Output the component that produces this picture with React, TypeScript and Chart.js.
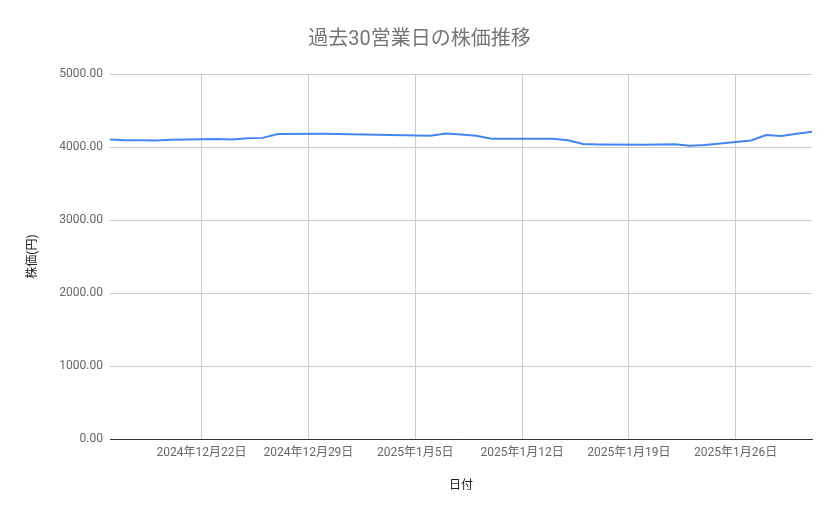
import { useEffect, useRef } from 'react'
import { Chart, registerables, type ChartConfiguration } from 'chart.js'
Chart.register(...registerables)

const FONT = "Roboto, 'Noto Sans CJK JP', sans-serif"

// 取引日 (30営業日)
const dates = [
  '2024-12-16', '2024-12-17', '2024-12-18', '2024-12-19', '2024-12-20',
  '2024-12-23', '2024-12-24', '2024-12-25', '2024-12-26', '2024-12-27',
  '2024-12-30', '2025-01-06', '2025-01-07', '2025-01-08', '2025-01-09',
  '2025-01-10', '2025-01-14', '2025-01-15', '2025-01-16', '2025-01-17',
  '2025-01-20', '2025-01-21', '2025-01-22', '2025-01-23', '2025-01-24',
  '2025-01-27', '2025-01-28', '2025-01-29', '2025-01-30', '2025-01-31',
]
const prices = [
  4103, 4094, 4093, 4090, 4098,
  4111, 4103, 4120, 4125, 4177,
  4180, 4155, 4185, 4170, 4155,
  4112, 4112, 4092, 4040, 4035,
  4030, 4035, 4038, 4018, 4027,
  4090, 4165, 4150, 4180, 4210,
]
// 目盛りの日付 (毎週日曜)
const tickDates = ['2024-12-22', '2024-12-29', '2025-01-05', '2025-01-12', '2025-01-19', '2025-01-26']
const rangeStart = '2024-12-16'
const rangeEnd = '2025-01-31'
const yTicks = [0, 1000, 2000, 3000, 4000, 5000]

const DAY = 86400000
const toDay = (s: string) => (Date.parse(s + 'T00:00:00Z') - Date.parse(rangeStart + 'T00:00:00Z')) / DAY
const fmtDay = (n: number) => {
  const d = new Date(Date.parse(rangeStart + 'T00:00:00Z') + n * DAY)
  return `${d.getUTCFullYear()}年${d.getUTCMonth() + 1}月${d.getUTCDate()}日`
}

export default function App() {
  const ref = useRef<HTMLCanvasElement>(null)
  const chartRef = useRef<Chart | null>(null)

  useEffect(() => {
    document.body.style.margin = '0'
    if (!ref.current) return
    chartRef.current?.destroy()
    const config: ChartConfiguration<'line'> = {
      type: 'line',
      data: {
        datasets: [{
          data: dates.map((d, i) => ({ x: toDay(d), y: prices[i] })),
          borderColor: '#4285f4',
          borderWidth: 2,
          pointRadius: 0,
          tension: 0,
        }],
      },
      options: {
        responsive: false,
        animation: false,
        layout: { padding: 0 },
        plugins: {
          legend: { display: false },
          tooltip: { enabled: false },
          title: {
            display: true,
            text: '過去30営業日の株価推移',
            color: '#757575',
            font: { family: FONT, size: 20, weight: 'normal' },
            padding: { top: 28, bottom: 22 },
          },
        },
        scales: {
          x: {
            type: 'linear',
            min: toDay(rangeStart),
            max: toDay(rangeEnd),
            afterBuildTicks: s => { s.ticks = tickDates.map(d => ({ value: toDay(d) })) },
            afterFit: s => { s.height = 80 },
            ticks: {
              callback: v => fmtDay(Number(v)),
              color: '#666',
              font: { family: FONT, size: 12 },
              padding: 7,
              maxRotation: 0,
              autoSkip: false,
            },
            grid: { color: '#cccccc', drawTicks: false },
            border: { display: true, color: '#333333', width: 1 },
            title: {
              display: true,
              text: '日付',
              color: '#222',
              font: { family: FONT, size: 12 },
              padding: { top: 0, bottom: 26 },
            },
          },
          y: {
            min: 0,
            max: 5000,
            afterBuildTicks: s => { s.ticks = yTicks.map(v => ({ value: v })) },
            afterFit: s => { s.width = 110 },
            ticks: {
              callback: v => Number(v).toFixed(2),
              color: '#666',
              font: { family: FONT, size: 12 },
              padding: 7,
            },
            grid: { color: '#cccccc', drawTicks: false },
            border: { display: false },
            title: {
              display: true,
              text: '株価(円)',
              color: '#222',
              font: { family: FONT, size: 12 },
              padding: { top: 26, bottom: 0 },
            },
          },
          // 右側の余白用 (表示なし)
          yRight: {
            position: 'right',
            min: 0,
            max: 5000,
            afterFit: s => { s.width = 27 },
            ticks: { display: false },
            grid: { display: false },
            border: { display: false },
          },
        },
      },
    }
    chartRef.current = new Chart(ref.current, config)
    return () => chartRef.current?.destroy()
  }, [])

  return (
    <div style={{ width: '839px', height: '519px' }}>
      <canvas ref={ref} width={839} height={519} />
    </div>
  )
}
